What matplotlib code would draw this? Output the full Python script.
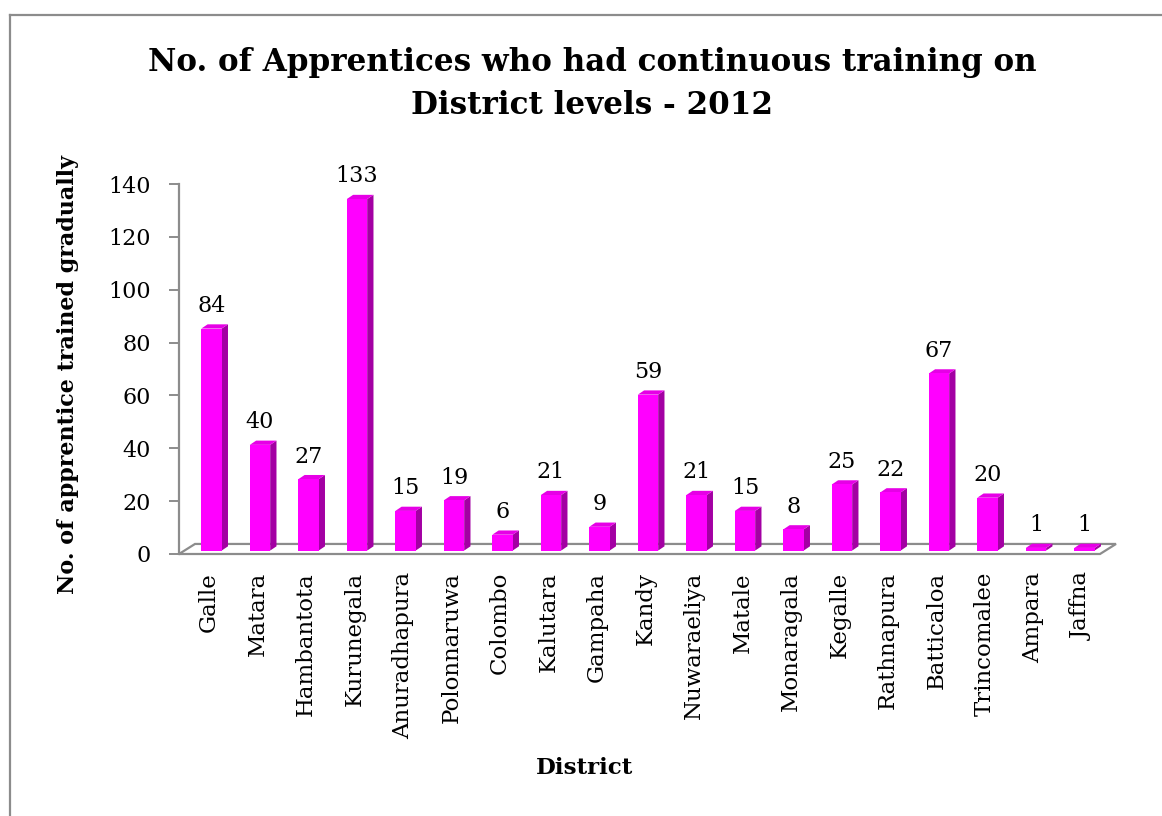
import matplotlib
matplotlib.use("Agg")
import matplotlib.pyplot as plt
from matplotlib.patches import Polygon
from matplotlib.lines import Line2D
import numpy as np

districts = ["Galle", "Matara", "Hambantota", "Kurunegala", "Anuradhapura",
             "Polonnaruwa", "Colombo", "Kalutara", "Gampaha", "Kandy",
             "Nuwaraeliya", "Matale", "Monaragala", "Kegalle", "Rathnapura",
             "Batticaloa", "Trincomalee", "Ampara", "Jaffna"]
apprentices = [84, 40, 27, 133, 15, 19, 6, 21, 9, 59, 21, 15, 8, 25, 22, 67, 20, 1, 1]
y_ticks = [0, 20, 40, 60, 80, 100, 120, 140]

title = "No. of Apprentices who had continuous training on\nDistrict levels - 2012"
x_title = "District"
y_title = "No. of apprentice trained gradually"

plt.rcParams["font.family"] = ["DejaVu Serif"]

FRONT = "#ff00ff"
SIDE = "#a300a3"
TOP = "#e600e6"
GREY = "#8c8c8c"

fig = plt.figure(figsize=(11.62, 8.16), dpi=100)
ax = fig.add_axes([179 / 1162, 1 - 554 / 816, 921 / 1162, 370 / 816])
x0, x1 = -0.62, 18.37
ax.set_xlim(x0, x1)
ax.set_ylim(0, 140)

# 3d-ish floor
fdx, fdy = 0.33, 3.8
floor = Polygon([(x0, 0), (x1, 0), (x1 + fdx, fdy), (x0 + fdx, fdy)],
                closed=True, facecolor="white", edgecolor=GREY, lw=1.6,
                clip_on=False, zorder=1)
ax.add_patch(floor)

# bars: front face, side face, top face
w = 0.42
bdx, bdy = 0.05, 1.3     # bar base offset into the floor
sdx, sdy = 0.13, 1.6     # bar depth
xs = np.arange(len(districts))
for x, v in zip(xs, apprentices):
    l, r = x - w / 2 + bdx, x + w / 2 + bdx
    b, t = bdy, v + bdy
    ax.add_patch(Polygon([(r, b), (r + sdx, b + sdy), (r + sdx, t + sdy), (r, t)],
                         closed=True, facecolor=SIDE, edgecolor="none",
                         clip_on=False, zorder=3))
    ax.add_patch(Polygon([(l, t), (r, t), (r + sdx, t + sdy), (l + sdx, t + sdy)],
                         closed=True, facecolor=TOP, edgecolor="none",
                         clip_on=False, zorder=3))
    ax.add_patch(Polygon([(l, b), (r, b), (r, t), (l, t)],
                         closed=True, facecolor=FRONT, edgecolor="none",
                         clip_on=False, zorder=4))
    ax.annotate(str(v), xy=(x + bdx, t), xytext=(0, 12), textcoords="offset points",
                ha="center", va="baseline", fontsize=16, color="black")

for s in ["top", "right", "bottom"]:
    ax.spines[s].set_visible(False)
ax.spines["left"].set_color(GREY)
ax.spines["left"].set_linewidth(1.6)

ax.set_yticks(y_ticks)
ax.tick_params(axis="y", direction="out", length=7, width=1.4, color=GREY,
               pad=13, labelsize=16)
ax.set_xticks(xs)
ax.set_xticklabels(districts, rotation=90, va="top", ha="center")
ax.tick_params(axis="x", length=0, pad=13, labelsize=16.5)

fig.text(592 / 1162, 1 - 84 / 816, title, ha="center", va="center",
         fontsize=22.3, fontweight="bold", linespacing=1.5)
fig.text(585 / 1162, 1 - 768 / 816, x_title, ha="center", va="center",
         fontsize=16.5, fontweight="bold")
fig.text(68 / 1162, 1 - 374 / 816, y_title, ha="center", va="center",
         rotation=90, fontsize=16, fontweight="bold")

# chart border (cut off at right and bottom)
fig.add_artist(Line2D([10 / 1162, 1.0], [1 - 15 / 816, 1 - 15 / 816],
                      transform=fig.transFigure, color=GREY, lw=1.6))
fig.add_artist(Line2D([10 / 1162, 10 / 1162], [1 - 15 / 816, 0.0],
                      transform=fig.transFigure, color=GREY, lw=1.6))

fig.savefig("out.png", dpi=100, facecolor="white")
